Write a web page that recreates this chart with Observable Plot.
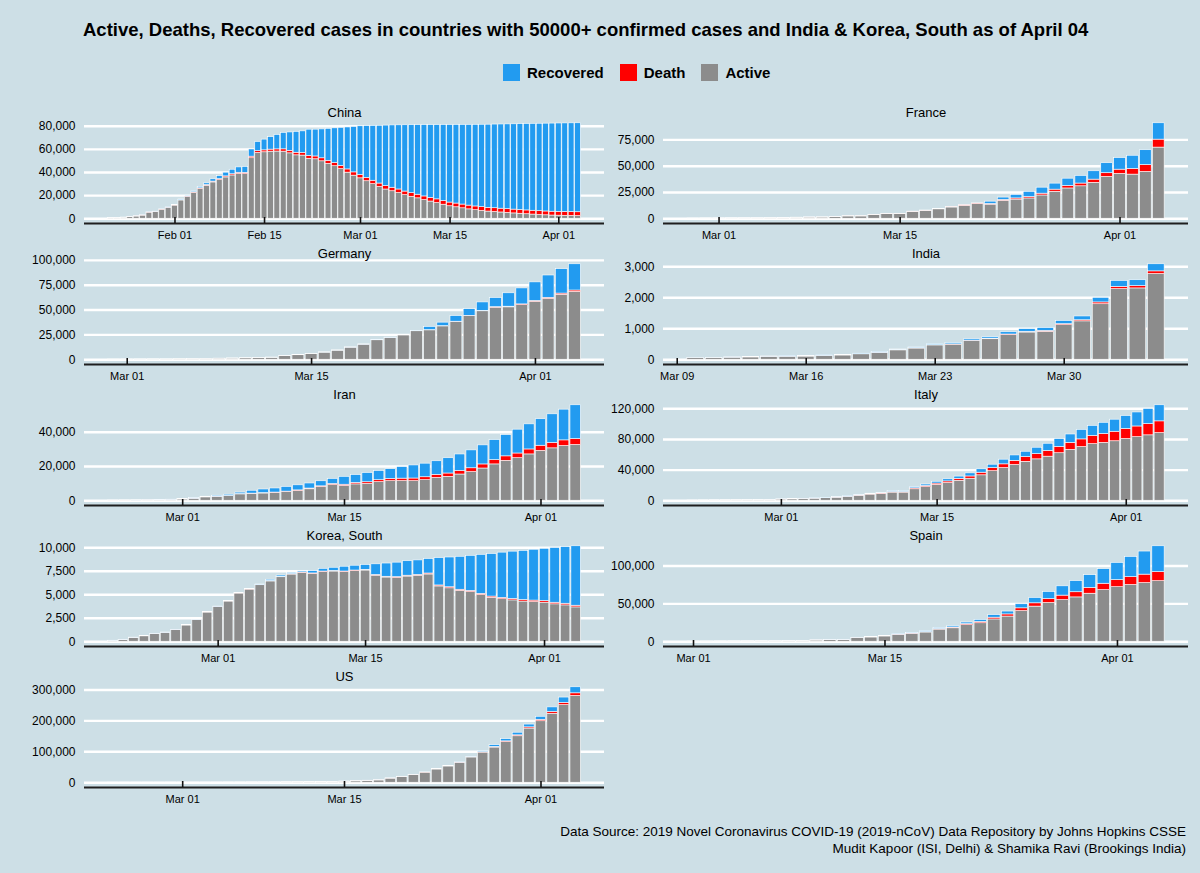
<!DOCTYPE html>
<html>
<head>
<meta charset="utf-8">
<script src="https://cdn.jsdelivr.net/npm/d3@7"></script>
<script src="https://cdn.jsdelivr.net/npm/@observablehq/plot@0.6"></script>
<style>
  html, body { margin: 0; padding: 0; background: #cddfe6; }
  #page { position: relative; width: 1200px; height: 873px; background: #cddfe6; overflow: hidden;
          font-family: "Liberation Sans", Arial, Helvetica, sans-serif; color: #000; }
  #title { position: absolute; left: 83px; top: 19px; font-size: 18.5px; font-weight: bold; white-space: nowrap; }
  #legend { position: absolute; left: 503px; top: 64px; display: flex; align-items: center; font-size: 15px; font-weight: bold; }
  #legend .item { display: flex; align-items: center; margin-right: 16px; }
  #legend .sw { width: 17px; height: 17px; margin-right: 7px; }
  #caption { position: absolute; right: 14px; top: 823px; text-align: right; font-size: 13.5px; line-height: 17px; }
  .panel { position: absolute; }
</style>
</head>
<body>
<div id="page">
  <div id="title">Active, Deaths, Recovered cases in countries with 50000+ confirmed cases and India &amp; Korea, South as of April 04</div>
  <div id="legend"></div>
  <div id="caption">Data Source: 2019 Novel Coronavirus COVID-19 (2019-nCoV) Data Repository by Johns Hopkins CSSE<br>Mudit Kapoor (ISI, Delhi) &amp; Shamika Ravi (Brookings India)</div>
</div>
<script>
// ---------- categories ----------
const seriesNames = ["Recovered", "Death", "Active"];
const seriesColors = ["#229bf0", "#ff0000", "#8c8c8c"];
const countryNames = ["China", "France", "Germany", "India", "Iran", "Italy", "Korea, South", "Spain", "US"];
const startDates = ["2020-01-22", "2020-02-28", "2020-02-29", "2020-03-10", "2020-02-24", "2020-02-22", "2020-02-20", "2020-03-01", "2020-02-24"];

// ---------- values (total bar = confirmed, red = deaths, blue = recovered) ----------
const chinaConfirmed = [548,643,920,1406,2075,2877,5509,6087,8141,9802,
  11891,16630,19716,23707,27440,30587,34110,36814,39829,42354,44386,44759,59895,66358,68413,70513,72434,74211,74619,75077,75550,77001,77022,77241,77754,78166,78600,78928,79356,
  79932,80136,80261,80386,80537,80690,80770,80823,80860,80887,80921,80932,80945,80977,81003,81033,81058,81102,81156,81250,81305,81435,81498,81591,81661,81782,81897,81999,82122,82198,82279,
  82361,82432,82511,82543];
const chinaDeaths = [17,18,26,42,56,82,131,133,171,213,
  259,361,425,490,562,632,717,804,904,1011,1111,1116,1368,1520,1662,1765,1863,2002,2114,2236,2236,2443,2445,2595,2665,2717,2746,2790,2837,
  2872,2914,2947,2983,3015,3044,3072,3100,3123,3139,3161,3172,3180,3193,3203,3217,3230,3241,3249,3253,3259,3274,3274,3281,3285,3291,3296,3299,3304,3308,3309,
  3316,3322,3326,3330];
const chinaRecovered = [28,30,36,39,49,58,101,120,135,214,
  275,463,614,843,1115,1476,1998,2595,3218,3917,4636,5082,6217,7977,9298,10755,12462,14206,15962,18014,18704,22699,23170,24990,27650,30053,32898,36291,39279,
  42118,44810,47404,49955,52240,53888,55478,57320,58735,60106,61644,62901,64196,65660,67017,67910,68798,69755,70535,71266,71857,72362,72814,73280,73773,74181,74720,75100,75582,75923,76206,
  76405,76565,76760,76946];

const franceConfirmed = [57,100,
  130,191,204,288,380,656,959,1136,1219,1794,2293,2293,3681,4496,4532,6683,7715,9124,10970,12758,14463,16243,20123,22622,25600,29551,33402,38105,40708,45170,52827,
  57749,59929,65202,90848];
const franceDeaths = [2,2,
  2,3,4,4,6,9,11,19,19,33,48,48,79,91,91,149,149,149,244,451,563,676,862,1102,1333,1698,1997,2317,2611,3030,3532,
  4043,5398,6520,7574];
const franceRecovered = [12,12,
  12,12,12,12,12,12,12,12,12,12,12,12,12,12,12,12,12,12,12,12,12,2200,2207,3288,4955,5707,5724,6965,7226,7964,9513,
  11053,12548,14135,15572];

const germanyConfirmed = [79,
  130,159,196,262,482,670,799,1040,1176,1457,1908,2078,3675,4585,5795,7272,9257,12327,15320,19848,22213,24873,29056,32986,37323,43938,50871,57695,62095,66885,71808,
  77872,84794,91159,96092];
const germanyDeaths = [0,
  0,0,0,0,0,0,0,0,2,2,3,3,7,9,11,17,24,28,44,67,84,94,123,157,206,267,342,433,533,645,775,
  920,1107,1275,1444];
const germanyRecovered = [16,
  16,16,16,16,16,17,18,18,18,18,25,25,46,46,46,67,67,105,113,180,233,266,266,3243,3547,5673,6658,8481,9211,13500,16100,
  18700,22440,24575,26400];

const indiaConfirmed = [56,62,73,82,102,113,119,142,156,194,244,330,396,499,536,657,727,887,987,1024,1251,1397,1998,2543,2567,3082];
const indiaDeaths = [0,1,1,2,2,2,2,3,3,4,5,4,7,10,10,12,20,20,24,27,32,35,58,72,72,86];
const indiaRecovered = [4,4,4,4,4,13,13,14,14,15,20,23,27,27,40,43,45,73,84,95,102,123,148,191,192,229];

const iranConfirmed = [61,95,139,245,388,593,
  978,1501,2336,2922,3513,4747,5823,6566,7161,8042,9000,10075,11364,12729,13938,14991,16169,17361,18407,19644,20610,21638,23049,24811,27017,29406,32332,35408,38309,41495,44605,
  47593,50468,53183,55743];
const iranDeaths = [12,16,19,26,34,43,
  54,66,77,92,107,124,145,194,237,291,354,429,514,611,724,853,988,1135,1284,1433,1556,1685,1812,1934,2077,2234,2378,2517,2640,2757,2898,
  3036,3160,3294,3452];
const iranRecovered = [0,0,49,49,73,123,
  175,291,291,552,739,913,1669,2134,2394,2731,2959,2959,2959,2959,4590,4590,5389,5389,5710,6745,7635,7931,7931,8913,9625,10457,11133,11679,12391,13911,14656,
  15473,16711,17935,19736];

const italyConfirmed = [62,155,229,322,453,655,888,1128,
  1694,2036,2502,3089,3858,4636,5883,7375,9172,10149,12462,12462,17660,21157,24747,27980,31506,35713,41035,47021,53578,59138,63927,69176,74386,80589,86498,92472,97689,101739,105792,
  110574,115242,119827,124632];
const italyDeaths = [2,3,7,10,12,17,21,29,
  34,52,79,107,148,197,233,366,463,631,827,827,1266,1441,1809,2158,2503,2978,3405,4032,4825,5476,6077,6820,7503,8215,9134,10023,10779,11591,12428,
  13155,13915,14681,15362];
const italyRecovered = [1,2,1,1,3,45,46,46,
  83,149,160,276,414,523,589,622,724,724,1045,1045,1439,1966,2335,2749,2941,4025,4440,4440,6072,7024,7024,8326,9362,10361,10950,12384,13030,14620,15729,
  16847,18278,19758,20996];

const koreaConfirmed = [104,204,433,602,833,977,1261,1766,2337,3150,
  3736,4335,5186,5621,6088,6593,7041,7314,7478,7513,7755,7869,7979,8086,8162,8236,8320,8413,8565,8652,8799,8897,8961,9037,9137,9241,9332,9478,9583,9661,9786,
  9887,9976,10062,10156];
const koreaDeaths = [1,2,2,6,8,10,12,13,13,16,
  17,28,28,35,35,42,44,50,53,54,60,66,66,72,75,75,81,84,91,94,102,104,111,120,126,131,139,144,152,158,162,
  165,169,174,177];
const koreaRecovered = [16,16,16,18,18,22,22,22,22,27,
  30,30,30,41,41,135,135,118,118,247,288,333,510,510,510,1137,1407,1540,1540,1540,1540,2909,3166,3507,3730,4144,4528,4811,5033,5228,5408,
  5567,5828,6021,6325];

const spainConfirmed = [84,120,165,222,259,400,500,673,1073,1695,2277,2277,5232,6391,7798,9942,11748,13910,17963,20410,25374,28768,35136,39885,49515,57786,65719,73235,80110,87956,95923,
  104118,112065,119199,126168];
const spainDeaths = [0,0,1,2,3,5,10,17,28,35,54,55,133,195,289,342,533,623,830,1043,1375,1772,2311,2808,3647,4365,5138,5982,6803,7716,8464,
  9387,10348,11198,11947];
const spainRecovered = [2,2,2,2,2,2,30,30,32,32,183,183,193,517,517,530,1028,1081,1107,1588,2125,2575,3355,3794,5367,7015,9357,12285,14709,16780,19259,
  22647,26743,30513,34219];

const usConfirmed = [53,53,59,60,62,70,
  76,101,122,153,221,278,417,537,605,959,1281,1663,2179,2726,3499,4632,6421,7783,13747,19273,25600,33276,43847,53740,65778,83836,101657,121478,140886,161807,188172,
  213372,243762,275586,308853];
const usDeaths = [0,0,0,0,0,1,
  1,6,7,11,12,14,17,21,22,28,36,40,47,54,63,85,108,118,200,244,307,427,552,706,942,1209,1581,2026,2467,2978,3873,
  4757,5926,7087,8407];
const usRecovered = [5,5,6,6,7,7,
  7,7,8,8,8,8,8,8,8,8,8,12,12,12,12,17,17,105,121,147,176,178,348,361,681,869,2665,5644,7024,8474,9001,
  9707,14652,17448,19581];

// ---------- tick labels ----------
const chinaXTicks = ["2020-02-01", "2020-02-15", "2020-03-01", "2020-03-15", "2020-04-01"];
const commonXTicks = ["2020-03-01", "2020-03-15", "2020-04-01"];
const indiaXTicks = ["2020-03-09", "2020-03-16", "2020-03-23", "2020-03-30"];
const chinaYTicks = [0, 20000, 40000, 60000, 80000];
const franceYTicks = [0, 25000, 50000, 75000];
const germanyYTicks = [0, 25000, 50000, 75000, 100000];
const indiaYTicks = [0, 1000, 2000, 3000];
const iranYTicks = [0, 20000, 40000];
const italyYTicks = [0, 40000, 80000, 120000];
const koreaYTicks = [0, 2500, 5000, 7500, 10000];
const spainYTicks = [0, 50000, 100000];
const usYTicks = [0, 100000, 200000, 300000];

// ---------- assemble ----------
const panelSeries = [
  [chinaConfirmed, chinaDeaths, chinaRecovered, chinaXTicks, chinaYTicks],
  [franceConfirmed, franceDeaths, franceRecovered, commonXTicks, franceYTicks],
  [germanyConfirmed, germanyDeaths, germanyRecovered, commonXTicks, germanyYTicks],
  [indiaConfirmed, indiaDeaths, indiaRecovered, indiaXTicks, indiaYTicks],
  [iranConfirmed, iranDeaths, iranRecovered, commonXTicks, iranYTicks],
  [italyConfirmed, italyDeaths, italyRecovered, commonXTicks, italyYTicks],
  [koreaConfirmed, koreaDeaths, koreaRecovered, commonXTicks, koreaYTicks],
  [spainConfirmed, spainDeaths, spainRecovered, commonXTicks, spainYTicks],
  [usConfirmed, usDeaths, usRecovered, commonXTicks, usYTicks]
];

const page = document.getElementById("page");
const legend = document.getElementById("legend");
seriesNames.forEach((n, i) => {
  const it = document.createElement("div");
  it.className = "item";
  it.innerHTML = `<div class="sw" style="background:${seriesColors[i]}"></div><span>${n}</span>`;
  legend.appendChild(it);
});

const DAY = 864e5;
const PANEL_H = 105;
const MT = 16, MB = 24;
const rowTops = [117.5, 258.5, 399.5, 540.5, 681.5];
const fmtDate = d3.utcFormat("%b %d");
const fmtNum = d3.format(",");

countryNames.forEach((name, k) => {
  const [conf, deaths, rec, xt, yt] = panelSeries[k];
  const start = new Date(startDates[k] + "T00:00:00Z");
  const segs = [];
  conf.forEach((c, i) => {
    const date = new Date(+start + i * DAY);
    const x1 = new Date(+date - 0.45 * DAY), x2 = new Date(+date + 0.45 * DAY);
    const active = c - deaths[i] - rec[i];
    segs.push({x1, x2, y1: 0, y2: active, type: "Active"});
    segs.push({x1, x2, y1: active, y2: active + deaths[i], type: "Death"});
    segs.push({x1, x2, y1: active + deaths[i], y2: c, type: "Recovered"});
  });
  const n = conf.length;
  const lo = +start - 0.45 * DAY;
  const hi = +start + (n - 1) * DAY + 0.45 * DAY;
  const R = hi - lo;
  const xDomain = [new Date(lo - 0.05 * R), new Date(hi + 0.05 * R)];
  const ymax = d3.max(conf);
  const yDomain = [-0.05 * ymax, 1.05 * ymax];
  const col = k % 2, row = Math.floor(k / 2);
  const left = col === 0 ? 0 : 606;
  const width = col === 0 ? 606 : 594;
  const marginLeft = col === 0 ? 84 : 57;
  const marginRight = col === 0 ? 2 : 12;
  const xTickDates = xt.map(s => new Date(s + "T00:00:00Z"));

  const chart = Plot.plot({
    width, height: MT + PANEL_H + MB,
    marginTop: MT, marginBottom: MB, marginLeft, marginRight,
    style: {background: "transparent", overflow: "visible", fontFamily: "'Liberation Sans', Arial, sans-serif", color: "#000"},
    x: {type: "utc", domain: xDomain},
    y: {domain: yDomain},
    color: {domain: seriesNames, range: seriesColors},
    marks: [
      Plot.ruleY(yt, {stroke: "white", strokeWidth: 2.4}),
      Plot.rect(segs, {x1: "x1", x2: "x2", y1: "y1", y2: "y2", fill: "type", stroke: "white", strokeWidth: 0.6}),
      Plot.ruleY([yDomain[0]], {stroke: "#1e1e1e", strokeWidth: 2}),
      Plot.ruleX(xTickDates, {stroke: "#111", strokeWidth: 1.6, insetTop: PANEL_H - 6}),
      Plot.axisY({ticks: yt, tickSize: 0, tickPadding: 9, tickFormat: fmtNum, fontSize: 12, label: null}),
      Plot.axisX({ticks: xTickDates, tickSize: 0, tickPadding: 8, tickFormat: fmtDate, fontSize: 11, label: null}),
      Plot.text([name], {text: d => d, frameAnchor: "top", lineAnchor: "middle", dy: -6, fontSize: 13})
    ]
  });
  chart.classList.add("panel");
  chart.style.left = left + "px";
  chart.style.top = (rowTops[row] - MT) + "px";
  chart.style.position = "absolute";
  page.appendChild(chart);
});
</script>
</body>
</html>
